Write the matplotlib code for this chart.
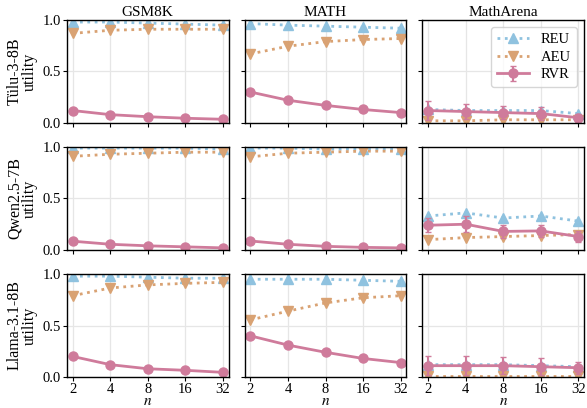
import matplotlib
matplotlib.use("Agg")
import matplotlib.pyplot as plt

plt.rcParams['font.family'] = ['Liberation Serif', 'DejaVu Serif']
plt.rcParams['mathtext.fontset'] = 'stix'

# --- data ---
n_values = [2, 4, 8, 16, 32]
models = ['Tülu-3-8B', 'Qwen2.5-7B', 'Llama-3.1-8B']
datasets = ['GSM8K', 'MATH', 'MathArena']

# REU per model, per dataset
reu_tulu = [[0.98, 0.98, 0.97, 0.96, 0.95],
            [0.965, 0.95, 0.94, 0.93, 0.92],
            [0.13, 0.12, 0.12, 0.12, 0.09]]
reu_qwen = [[0.99, 0.99, 0.99, 0.99, 0.98],
            [0.99, 0.99, 0.98, 0.98, 0.98],
            [0.33, 0.36, 0.31, 0.33, 0.28]]
reu_llama = [[0.98, 0.98, 0.97, 0.96, 0.96],
             [0.95, 0.95, 0.95, 0.94, 0.93],
             [0.12, 0.12, 0.12, 0.11, 0.10]]

# AEU
aeu_tulu = [[0.87, 0.90, 0.91, 0.91, 0.91],
            [0.67, 0.745, 0.79, 0.81, 0.82],
            [0.02, 0.02, 0.03, 0.03, 0.03]]
aeu_qwen = [[0.91, 0.93, 0.94, 0.95, 0.95],
            [0.905, 0.94, 0.95, 0.96, 0.96],
            [0.10, 0.12, 0.13, 0.14, 0.15]]
aeu_llama = [[0.79, 0.865, 0.895, 0.91, 0.92],
             [0.555, 0.64, 0.72, 0.77, 0.79],
             [0.01, 0.01, 0.01, 0.01, 0.01]]

# RVR
rvr_tulu = [[0.12, 0.08, 0.06, 0.045, 0.035],
            [0.30, 0.22, 0.17, 0.13, 0.10],
            [0.12, 0.11, 0.10, 0.09, 0.05]]
rvr_qwen = [[0.085, 0.055, 0.04, 0.03, 0.02],
            [0.087, 0.055, 0.035, 0.025, 0.02],
            [0.24, 0.25, 0.18, 0.185, 0.13]]
rvr_llama = [[0.20, 0.12, 0.08, 0.065, 0.045],
             [0.40, 0.31, 0.24, 0.18, 0.14],
             [0.11, 0.11, 0.11, 0.10, 0.09]]

# RVR error bars (only MathArena has visible ones)
rvr_err_tulu = [0.09, 0.07, 0.06, 0.06, 0.04]
rvr_err_qwen = [0.07, 0.08, 0.06, 0.06, 0.05]
rvr_err_llama = [0.09, 0.09, 0.08, 0.08, 0.06]

reu_all = [reu_tulu, reu_qwen, reu_llama]
aeu_all = [aeu_tulu, aeu_qwen, aeu_llama]
rvr_all = [rvr_tulu, rvr_qwen, rvr_llama]
rvr_err_all = [rvr_err_tulu, rvr_err_qwen, rvr_err_llama]

c_reu = '#8fc2df'
c_aeu = '#d9a273'
c_rvr = '#cf7b9b'

fig, axes = plt.subplots(3, 3, figsize=(5.87, 4.08), dpi=100, sharex=True, sharey=True)
fig.subplots_adjust(left=0.114, right=0.995, top=0.951, bottom=0.076,
                    wspace=0.10, hspace=0.235)

for i in range(3):
    for j in range(3):
        ax = axes[i, j]
        ax.plot(n_values, reu_all[i][j], linestyle=':', color=c_reu, lw=2,
                marker='^', ms=6.5, label='REU')
        ax.plot(n_values, aeu_all[i][j], linestyle=':', color=c_aeu, lw=2,
                marker='v', ms=6.5, label='AEU')
        if j == 2:
            ax.errorbar(n_values, rvr_all[i][j], yerr=rvr_err_all[i], color=c_rvr,
                        lw=2, marker='o', ms=6.5, capsize=2, elinewidth=1.5,
                        label='RVR')
        else:
            ax.plot(n_values, rvr_all[i][j], color=c_rvr, lw=2, marker='o',
                    ms=6.5, label='RVR')
        ax.set_xscale('log', base=2)
        ax.set_xticks(n_values)
        ax.set_xticklabels([str(v) for v in n_values])
        ax.minorticks_off()
        ax.set_xlim(1.8, 35.5)
        ax.set_ylim(0, 1)
        ax.set_yticks([0.0, 0.5, 1.0])
        ax.grid(True, color='#e6e6e6', lw=0.9)
        ax.set_axisbelow(True)
        ax.tick_params(labelsize=10.5, length=3, width=0.8, pad=1.5)
        for sp in ax.spines.values():
            sp.set_linewidth(1.0)
        if i == 0:
            ax.set_title(datasets[j], fontsize=11, pad=3)
        if j == 0:
            ax.set_ylabel(models[i] + '\nutility', fontsize=11.5, labelpad=3,
                          linespacing=0.95)
        if i == 2:
            ax.set_xlabel('$n$', fontsize=11, labelpad=-1)

axes[0, 2].legend(loc='upper right', fontsize=10.5, handlelength=2.2,
                  borderpad=0.4, labelspacing=0.3, framealpha=0.8,
                  edgecolor='#cccccc')

fig.savefig('out.png', dpi=100)
